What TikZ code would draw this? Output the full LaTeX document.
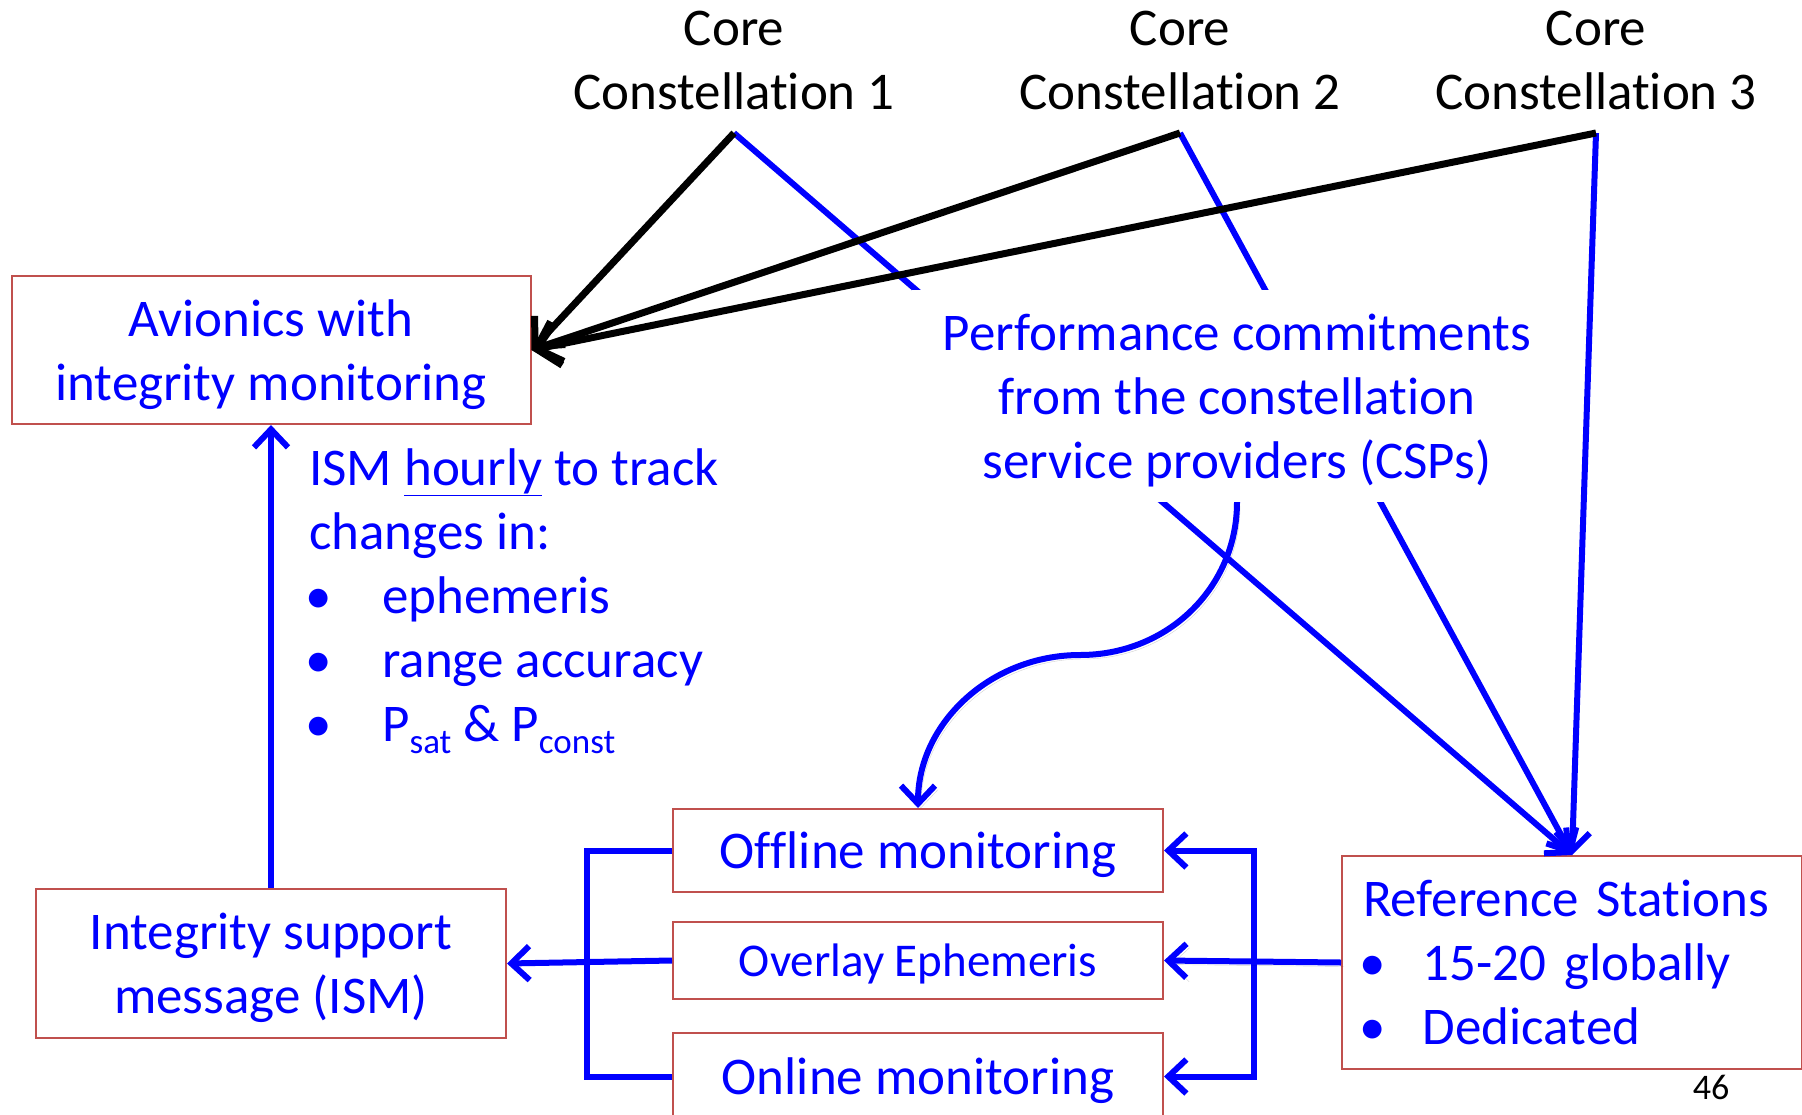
\documentclass[tikz,border=0pt]{standalone}
\usepackage{fontspec}
\setmainfont[Ligatures=NoCommon]{Carlito}
\usetikzlibrary{arrows.meta}
\definecolor{boxred}{RGB}{192,80,77}
\definecolor{ink}{RGB}{0,0,255}
\newcommand\rsbul{\makebox[60pt][l]{\hspace*{-4pt}\textbullet}}
\newcommand\notebul{\makebox[73pt][l]{\hspace*{-4pt}\textbullet}}
\newcommand\lowsub[1]{\raisebox{-12pt}{\fontsize{35}{40}\selectfont #1}}

\begin{document}
\begin{tikzpicture}[x=1pt,y=-1pt,
  every node/.style={font=\fontsize{53}{64}\selectfont, inner sep=0pt},
  box/.style={draw=boxred, line width=2pt, text=ink, align=center, text depth=0pt},
  flow/.style={draw=ink, line width=6pt, -{Straight Barb[length=18pt,width=34pt]}},
  bar/.style={draw=ink, line width=6pt},
  feed/.style={draw=black, line width=7pt, -{Straight Barb[length=22pt,width=42pt]}},
  soft/.style={preaction={draw=black, opacity=.18, transform canvas={shift={(3pt,-4pt)}}}},
  constlabel/.style={text=black, align=center}]
\useasboundingbox (0,0) rectangle (1802,1114);
\fill[white] (0,0) rectangle (1802,1114);

% constellations and their apex points
\node[constlabel] (c1) at (734,60) {Core\\Constellation 1};
\node[constlabel] (c2) at (1180,60) {Core\\Constellation 2};
\node[constlabel] (c3) at (1596,60) {Core\\Constellation 3};
\coordinate (a1) at (734,133);
\coordinate (a2) at (1180,133);
\coordinate (a3) at (1596,133);

% boxes
\node[box, minimum width=519pt, minimum height=148pt] (av) at (271,350) {Avionics with\\integrity monitoring};
\node[box, minimum width=470pt, minimum height=149pt] (ism) at (271,963.5) {Integrity support\\message (ISM)};
\node[box, minimum width=490pt, minimum height=83pt] (off) at (918,850.5) {Offline monitoring};
\node[box, minimum width=490pt, minimum height=77pt, font=\fontsize{47}{56}\selectfont] (ov) at (918,960.5) {Overlay Ephemeris};
\node[box, minimum width=490pt, minimum height=87pt] (onl) at (918,1076.5) {Online monitoring};
\node[box, minimum width=460pt, minimum height=213pt, text width=418pt, align=left, inner xsep=21pt, text depth=] (rs) at (1572,962.5)
  {Reference Stations\\\rsbul 15-20 globally\\\rsbul Dedicated};

% ISM contents note
\node[text=ink, align=left, anchor=north west] (note) at (309,448)
  {ISM \underline{hourly} to track\\changes in:\\\notebul ephemeris\\\notebul range accuracy\\\notebul P\lowsub{sat} \& P\lowsub{const}};

% constellations feeding the reference stations
\draw[flow] (a1) -- (rs.north);
\draw[flow] (a2) -- (rs.north);
\draw[flow] (a3) -- (rs.north);

% performance commitments (masks the lines behind it)
\node[text=ink, fill=white, minimum width=650pt, minimum height=212pt, align=center, text depth=0pt] (perf) at (1237,396)
  {Performance commitments\\from the constellation\\service providers (CSPs)};

% constellations broadcasting to the avionics
\draw[feed] (a1) -- (av.east);
\draw[feed] (a2) -- (av.east);
\draw[feed] (a3) -- (av.east);

% commitments to offline monitoring
\draw[flow, soft] (perf.south) .. controls +(0,85) and (1168,655) .. (1080,655)
  .. controls (991,655) and ([yshift=85pt]off.north) .. (off.north);

% monitoring outputs collected into the ISM
\draw[bar] (off.west) -- ++(-85,0) |- (onl.west);
\draw[flow] (ov.west) -- (ism.east);
\draw[flow] (ism.north) -- (av.south);

% reference stations feeding the monitors
\draw[bar, {Straight Barb[length=18pt,width=34pt]}-{Straight Barb[length=18pt,width=34pt]}] (off.east) -- ++(90,0) |- (onl.east);
\draw[flow, soft] (rs.west) -- (ov.east);

% page number
\node[font=\fontsize{36}{40}\selectfont] (pg) at (1711,1087) {46};
\end{tikzpicture}
\end{document}
